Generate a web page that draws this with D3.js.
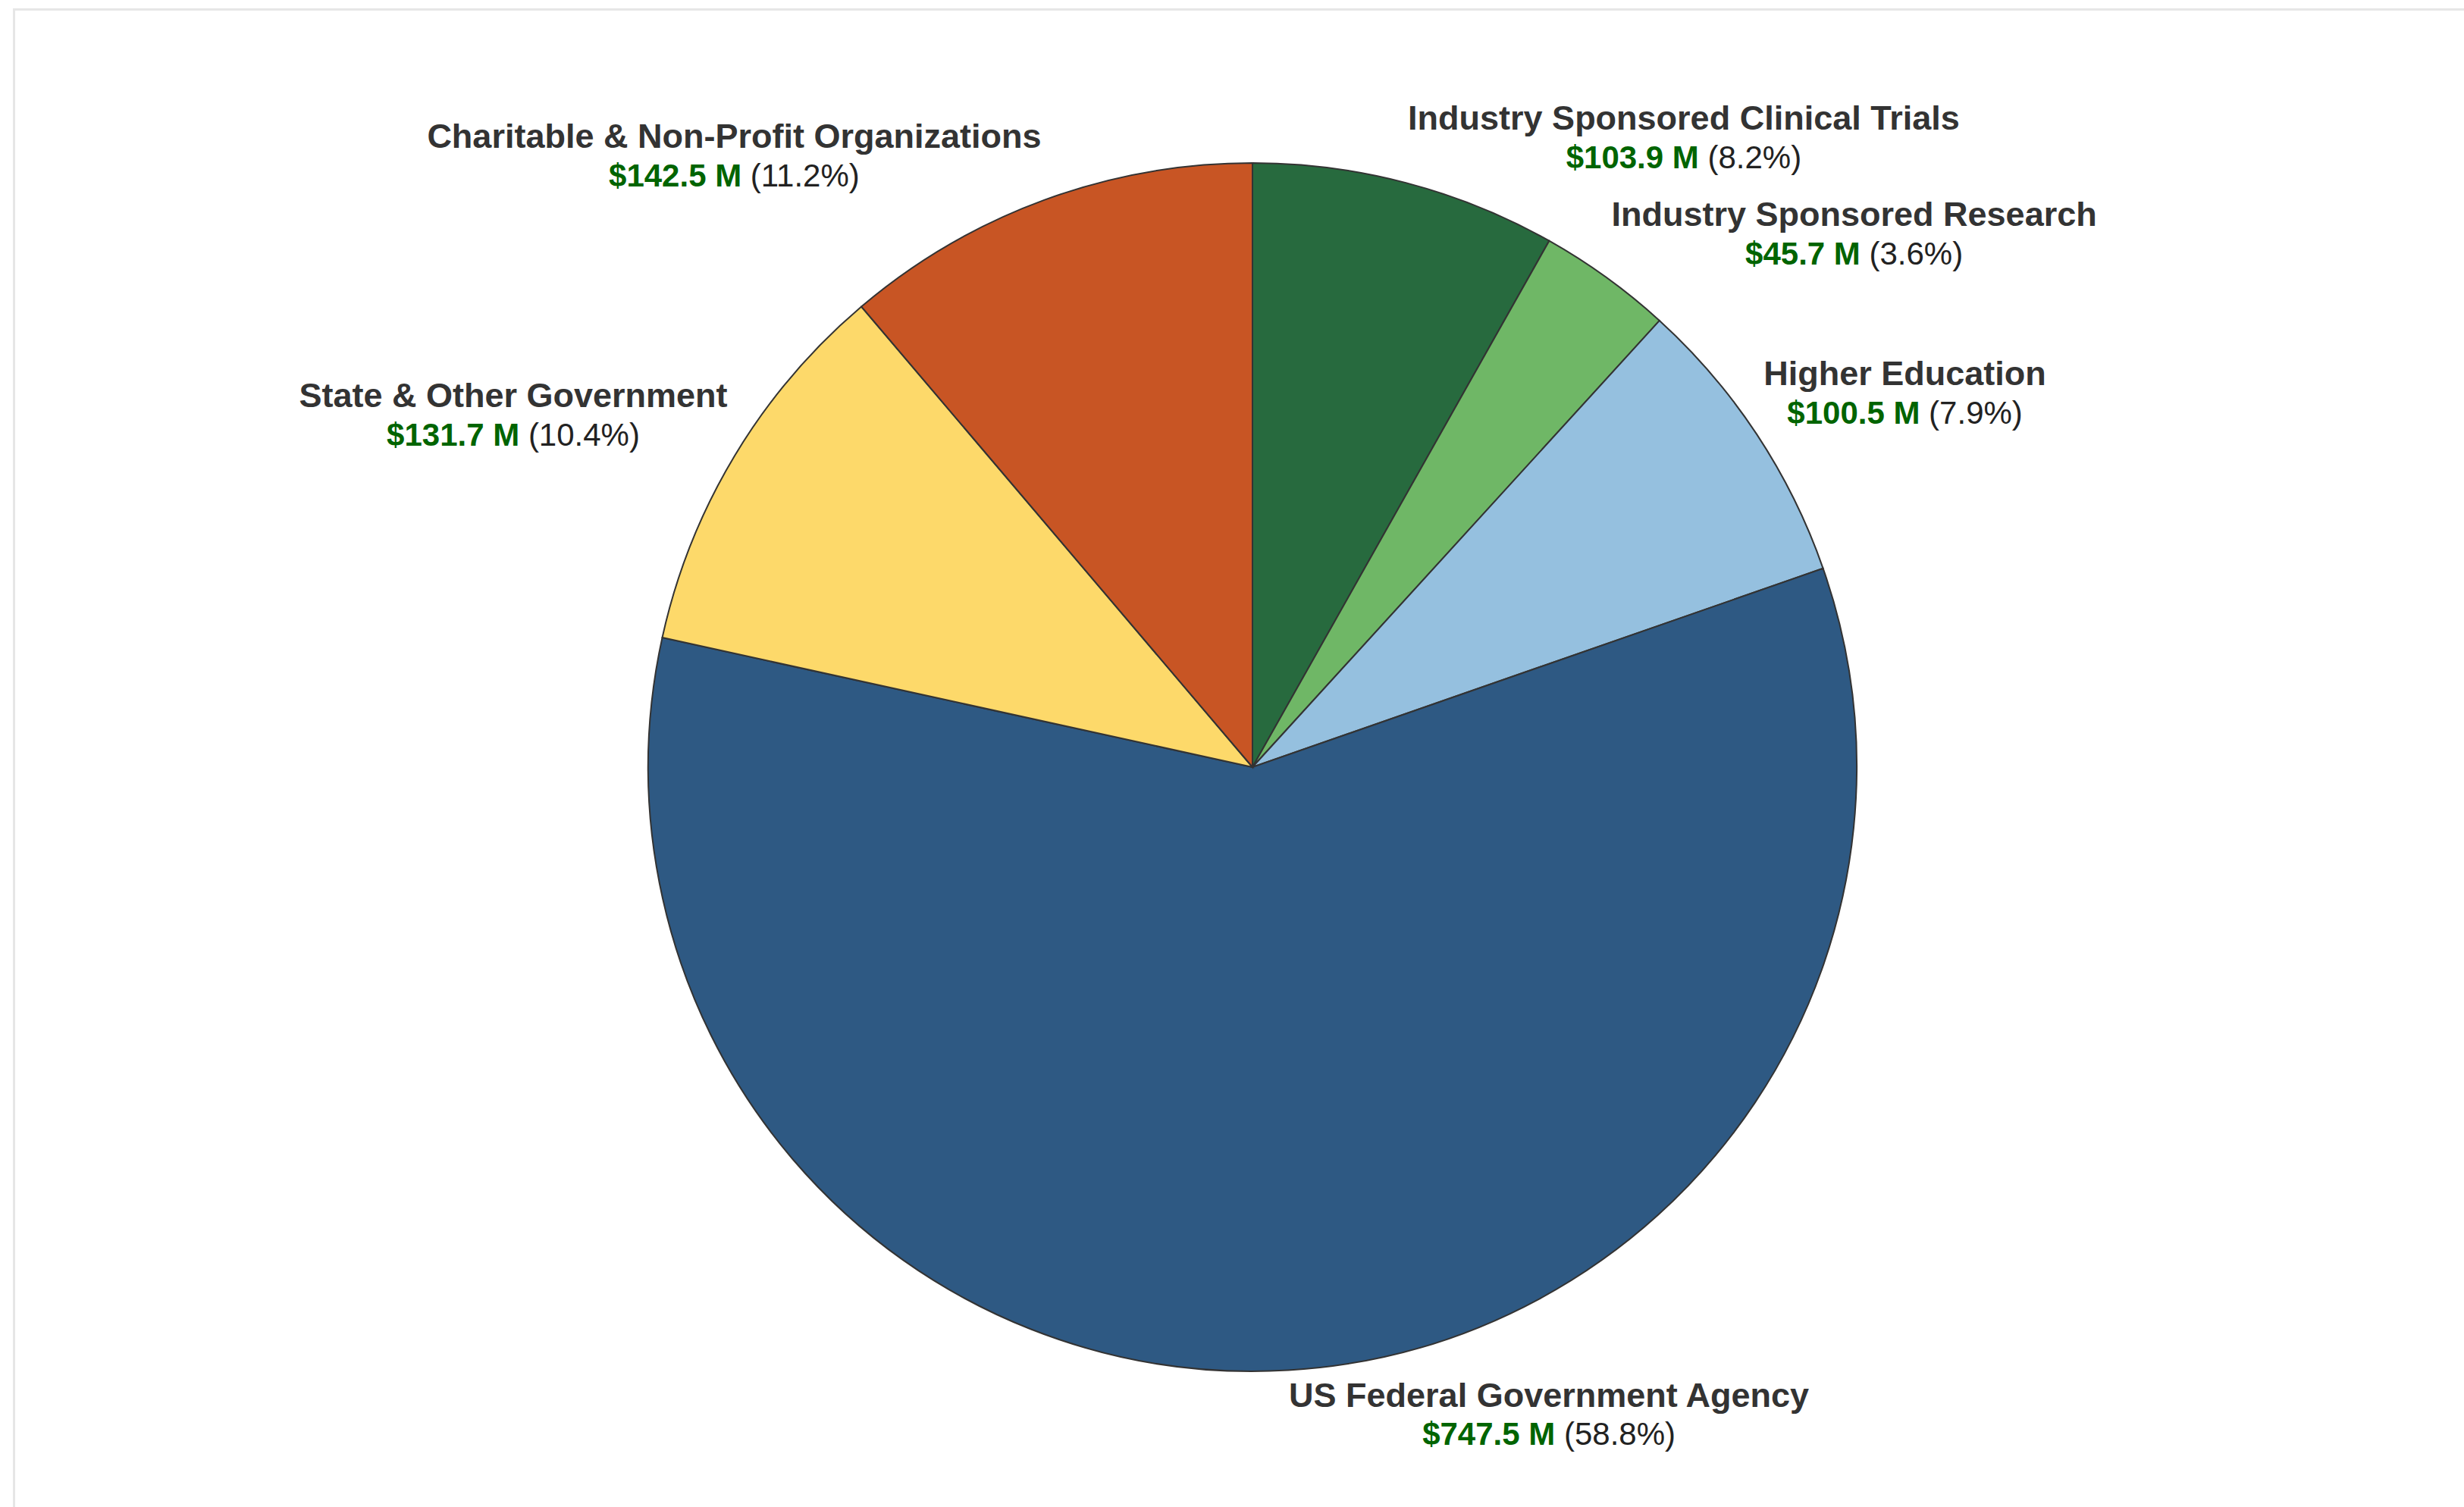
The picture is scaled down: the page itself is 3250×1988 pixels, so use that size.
<!DOCTYPE html>
<html>
<head>
<meta charset="utf-8">
<script src="https://cdn.jsdelivr.net/npm/d3@7"></script>
<style>
  html, body { margin: 0; padding: 0; background: #fff; }
  #pie-chart { width: 3250px; height: 1988px; }
  text { font-family: "Liberation Sans", Arial, Helvetica, sans-serif; }
</style>
</head>
<body>
<div id="pie-chart"></div>
<script>
// funding sources, clockwise from 12 o'clock
const categories = [
    "Industry Sponsored Clinical Trials",
    "Industry Sponsored Research",
    "Higher Education",
    "US Federal Government Agency",
    "State & Other Government",
    "Charitable & Non-Profit Organizations"
];
const amounts = [103.9, 45.7, 100.5, 747.5, 131.7, 142.5]; // $ millions
const sliceColors = ["#276a3e", "#6fb766", "#95c0df", "#2e5983", "#fdd96a", "#c85524"];

const data = categories.map((label, i) => ({ label, amount: amounts[i], color: sliceColors[i] }));

renderPieChart(data);

function renderPieChart(data) {
    const width = 3250;
    const height = 1988;
    const cx = 1652;
    const cy = 1012;
    const radius = 797;
    const labelRadius = radius + 11;

    const svg = d3
        .select("#pie-chart")
        .append("svg")
        .attr("width", width)
        .attr("height", height);

    // light frame, cropped at right/bottom like the original screenshot
    svg.append("rect")
        .attr("x", 18.5)
        .attr("y", 12.5)
        .attr("width", width)
        .attr("height", height)
        .attr("fill", "#fff")
        .attr("stroke", "#e6e6e6")
        .attr("stroke-width", 3);

    const g = svg.append("g").attr("transform", `translate(${cx},${cy})`);

    const total = d3.sum(data, (d) => d.amount);

    const pie = d3
        .pie()
        .value((d) => d.amount)
        .sort(null);

    const arcs = pie(data);

    const arc = d3
        .arc()
        .innerRadius(0)
        .outerRadius(radius);

    g.selectAll("path")
        .data(arcs)
        .enter()
        .append("path")
        .attr("d", arc)
        .attr("fill", (d) => d.data.color)
        .attr("stroke", "#333")
        .style("stroke-width", "2px");

    // labels: anchored just outside the rim at mid angle
    const labels = g.selectAll(".slice-label")
        .data(arcs)
        .enter()
        .append("g")
        .attr("class", "slice-label");

    labels.each(function (d) {
        const mid = (d.startAngle + d.endAngle) / 2;
        const ax = labelRadius * Math.sin(mid);
        const ay = -labelRadius * Math.cos(mid);
        const grp = d3.select(this);

        const title = grp.append("text")
            .attr("text-anchor", "middle")
            .attr("font-size", "45px")
            .attr("font-weight", "bold")
            .attr("fill", "#333")
            .text(d.data.label);

        const value = grp.append("text")
            .attr("text-anchor", "middle")
            .attr("font-size", "42px");
        value.append("tspan")
            .attr("font-weight", "bold")
            .attr("fill", "#006400")
            .text(`$${d.data.amount.toFixed(1)} M`);
        value.append("tspan")
            .attr("fill", "#222")
            .text(` (${(d.data.amount / total * 100).toFixed(1)}%)`);

        const w = Math.max(title.node().getComputedTextLength(), value.node().getComputedTextLength());
        const bx = Math.sin(mid) >= 0 ? ax + w / 2 : ax - w / 2;

        let titleY, valueY;
        if (Math.cos(mid) > 0) {
            valueY = ay - 8;
            titleY = valueY - 51;
        } else {
            titleY = ay + 37;
            valueY = titleY + 50;
        }
        title.attr("x", bx).attr("y", titleY);
        value.attr("x", bx).attr("y", valueY);
    });
}
</script>
</body>
</html>
